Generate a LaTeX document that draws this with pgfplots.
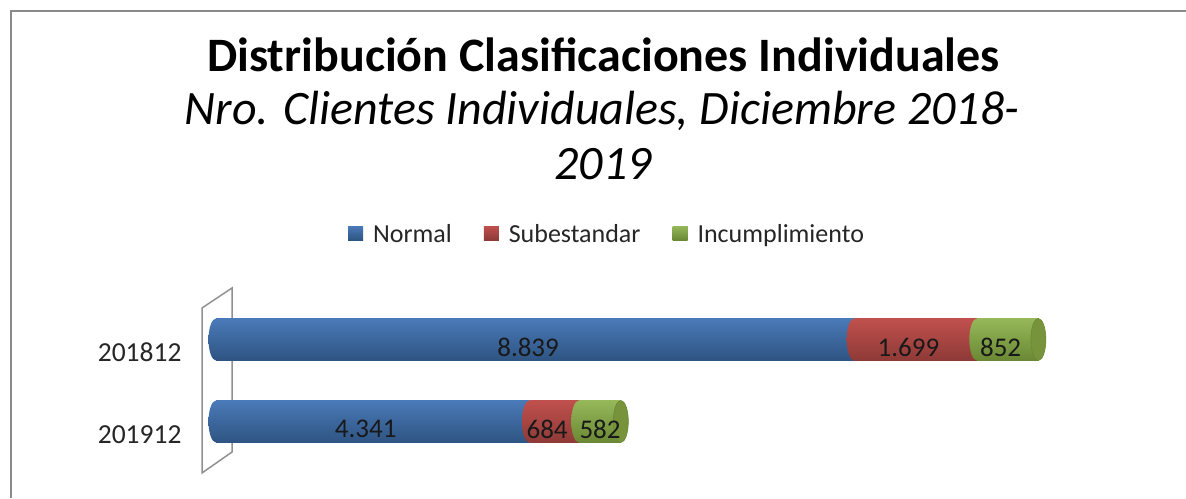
\documentclass[border=0pt]{standalone}
\usepackage{pgfplots}
\pgfplotsset{compat=1.18}
\usepackage{fontspec}
\setmainfont{Carlito}
\usetikzlibrary{shapes.geometric}
\definecolor{btop}{HTML}{4A7AB8}
\definecolor{bmid}{HTML}{5E98DA}
\definecolor{bbot}{HTML}{2E5482}
\definecolor{rtop}{HTML}{C0504D}
\definecolor{rmid}{HTML}{DB625E}
\definecolor{rbot}{HTML}{8E3A37}
\definecolor{gtop}{HTML}{96B85A}
\definecolor{gmid}{HTML}{ADD066}
\definecolor{gbot}{HTML}{6A8834}
\definecolor{gface}{HTML}{77933C}
\definecolor{lblue}{HTML}{4F81BD}
\definecolor{lred}{HTML}{C0504D}
\definecolor{lgreen}{HTML}{9BBB59}
\definecolor{framegray}{HTML}{8A8A8A}
\definecolor{wallgray}{HTML}{909090}
\pgfplotsset{
  rowaxis/.style={at={(216pt,35.5pt)}, anchor=south west, scale only axis,
    width=938.6pt, height=164pt, xmin=0, xmax=13000, ymin=-0.5, ymax=1.5, clip=false},
  bluebar/.style={draw=none, top color=btop, middle color=bmid, bottom color=bbot},
  redbar/.style={draw=none, top color=rtop, middle color=rmid, bottom color=rbot},
  greenbar/.style={draw=none, top color=gtop, middle color=gmid, bottom color=gbot},
  cap/.style={draw=none, mark=none, nodes near coords={},
    nodes near coords style={ellipse, inner sep=0pt, minimum width=15pt, minimum height=42pt,
      anchor=center, draw=none, #1}},
}
\begin{document}
\begin{tikzpicture}[x=1pt,y=1pt]
\useasboundingbox (0,0) rectangle (1186,498);
\draw[line width=2.5pt, framegray] (11,0) -- (11,487) -- (1186,487);
\node[anchor=base, font=\fontsize{48}{56}\selectfont\bfseries] at (603.5,426) {Distribución Clasificaciones Individuales};
\node[anchor=base, font=\fontsize{48}{56}\selectfont\itshape] at (602,373) {Nro. Clientes Individuales, Diciembre 2018-};
\node[anchor=base, font=\fontsize{48}{56}\selectfont\itshape] at (603,318) {2019};
\draw[wallgray, line width=1.5pt] (202,25) -- (202,190) -- (232,210) -- (232,46) -- cycle;
% row 201812
\begin{axis}[rowaxis,
  xbar stacked, bar width=42pt,
  hide x axis,
  y axis line style={draw=none},
  major tick length=0pt,
  ytick={0,1}, yticklabels={201912,201812},
  yticklabel style={font=\fontsize{27.5}{30}\selectfont, text=black!85, xshift=-31pt, yshift=-13pt},
  legend style={at={(0.4166,1.393)}, anchor=center, draw=none, fill=none,
    legend columns=3, font=\fontsize{26}{30}\selectfont, text=black!85,
    /tikz/every even column/.append style={column sep=30pt}},
]
\addplot[bluebar, legend image code/.code={\fill[lblue] (0pt,-6pt) rectangle (15pt,8pt); \path (23pt,0pt);}]
  coordinates {(8839,1)};
\addlegendentry{Normal}
\addplot[redbar, legend image code/.code={\fill[lred] (0pt,-6pt) rectangle (15pt,8pt); \path (23pt,0pt);}]
  coordinates {(1699,1)};
\addlegendentry{Subestandar}
\addplot[greenbar, legend image code/.code={\fill[lgreen] (0pt,-6pt) rectangle (15pt,8pt); \path (23pt,0pt);}]
  coordinates {(852,1)};
\addlegendentry{Incumplimiento}
\end{axis}
% row 201912
\begin{axis}[rowaxis, xbar stacked, bar width=42pt, hide axis]
\addplot[bluebar] coordinates {(4341,0)};
\addplot[redbar] coordinates {(684,0)};
\addplot[greenbar] coordinates {(582,0)};
\end{axis}
% cylinder caps and labels
\begin{axis}[rowaxis, hide axis]
\addplot[cap={top color=btop, middle color=bmid, bottom color=bbot}] coordinates {(0,0) (0,1)};
\addplot[cap={top color=rtop, middle color=rmid, bottom color=rbot}] coordinates {(4341,0) (8839,1)};
\addplot[cap={top color=gtop, middle color=gmid, bottom color=gbot}] coordinates {(5025,0) (10538,1)};
\addplot[cap={fill=gface, draw=gbot, line width=0.6pt}] coordinates {(5607,0) (11390,1)};
\addplot[draw=none, mark=none, nodes near coords, point meta=explicit symbolic,
  nodes near coords style={anchor=center, font=\fontsize{27}{30}\selectfont, text=black!90, xshift=-7pt, yshift=-7.5pt}]
  coordinates {(4419.5,1) [8.839] (9688.5,1) [1.699] (10964,1) [852]
               (2170.5,0) [4.341] (4683,0) [684] (5416,0) [582]};
\end{axis}
\end{tikzpicture}
\end{document}
